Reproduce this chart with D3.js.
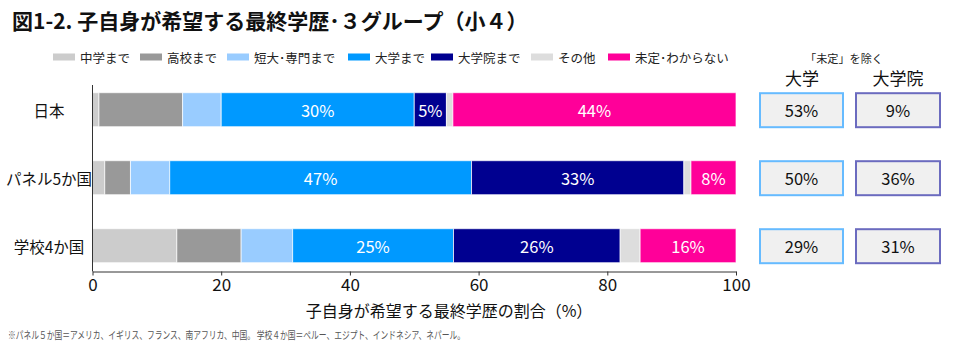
<!DOCTYPE html>
<html><head><meta charset="utf-8">
<script src="https://cdn.jsdelivr.net/npm/d3@7"></script>
<style>
body{margin:0;background:#fff;}
text{font-family:"Noto Sans CJK JP","Noto Sans",sans-serif;}
</style></head>
<body><svg id="c" width="955" height="356"></svg>
<script>
const categories = ["日本", "パネル5か国", "学校4か国"];
const seriesNames = ["中学まで", "高校まで", "短大･専門まで", "大学まで", "大学院まで", "その他", "未定･わからない"];
const seriesColors = ["#cccccc", "#999999", "#99ccff", "#0099ff", "#000090", "#dddddd", "#ff0099"];
const japanValues = [1.0, 13.0, 6.0, 30.0, 5.0, 1.0, 44.0];
const panelValues = [1.9, 4.0, 6.1, 46.9, 33.0, 1.1, 7.0];
const schoolValues = [13.1, 10.0, 8.0, 25.0, 25.9, 3.1, 14.9];
const japanLabels = [null, null, null, "30%", "5%", null, "44%"];
const panelLabels = [null, null, null, "47%", "33%", null, "8%"];
const schoolLabels = [null, null, null, "25%", "26%", null, "16%"];
const univExcl = ["53%", "50%", "29%"];
const gradExcl = ["9%", "36%", "31%"];
const xTicks = [0, 20, 40, 60, 80, 100];

const svg = d3.select("#c");
const x = d3.scaleLinear().domain([0, 100]).range([92.5, 736]);
const y = d3.scaleBand().domain(categories).range([75.7, 279.7]).paddingInner(0.5).paddingOuter(0.25);

// title
svg.append("text").attr("x", 12).attr("y", 29).attr("font-size", 21).attr("font-weight", "bold")
  .attr("fill", "#111").text("図1-2. 子自身が希望する最終学歴･３グループ（小４）");

// legend
const legendX = [53, 140, 227, 348, 431, 531, 608];
seriesNames.forEach((n, i) => {
  const g = svg.append("g").attr("transform", `translate(${legendX[i]},0)`);
  g.append("rect").attr("x", 0).attr("y", 53.5).attr("width", 22).attr("height", 7).attr("fill", seriesColors[i]);
  g.append("text").attr("x", 27).attr("y", 57).attr("dominant-baseline", "central")
    .attr("font-size", 12.5).attr("fill", "#222").text(n);
});

// stacked bars
const rows = [japanValues, panelValues, schoolValues];
const labels = [japanLabels, panelLabels, schoolLabels];
rows.forEach((vals, r) => {
  let acc = 0;
  vals.forEach((v, i) => {
    const x0 = acc, x1 = acc + v; acc = x1;
    svg.append("rect").attr("x", x(x0)).attr("y", y(categories[r]))
      .attr("width", x(x1) - x(x0)).attr("height", y.bandwidth())
      .attr("fill", seriesColors[i]).attr("stroke", "#fff").attr("stroke-width", 1).attr("stroke-opacity", 0.7);
    const lab = labels[r][i];
    if (lab) {
      svg.append("text").attr("x", (x(x0) + x(x1)) / 2).attr("y", y(categories[r]) + y.bandwidth() / 2)
        .attr("text-anchor", "middle").attr("dominant-baseline", "central")
        .attr("font-size", 16.5).attr("fill", "#fff").text(lab);
    }
  });
});

// category labels
categories.forEach(c => {
  svg.append("text").attr("x", 49).attr("y", y(c) + y.bandwidth() / 2)
    .attr("text-anchor", "middle").attr("dominant-baseline", "central")
    .attr("font-size", 15.5).attr("fill", "#111").text(c);
});

// y axis line
svg.append("line").attr("x1", x(0)).attr("x2", x(0)).attr("y1", 85).attr("y2", 271.5)
  .attr("stroke", "#333").attr("stroke-width", 1);

// x axis
const xAxis = d3.axisBottom(x).tickValues(xTicks).tickSize(4).tickSizeOuter(0).tickPadding(3);
const ga = svg.append("g").attr("transform", "translate(0,271.5)").call(xAxis);
ga.select(".domain").attr("stroke", "#333");
ga.selectAll(".tick line").attr("stroke", "#333");
ga.selectAll(".tick text").attr("font-size", 17).attr("fill", "#111")
  .attr("font-family", "'Noto Sans',sans-serif");

svg.append("text").attr("x", 449).attr("y", 310).attr("text-anchor", "middle").attr("dominant-baseline", "central")
  .attr("font-size", 16).attr("fill", "#111").text("子自身が希望する最終学歴の割合（%）");

// right boxes
svg.append("text").attr("x", 844).attr("y", 58).attr("text-anchor", "middle").attr("dominant-baseline", "central")
  .attr("font-size", 11.5).attr("fill", "#222").text("「未定」を除く")
  .attr("textLength", 78).attr("lengthAdjust", "spacingAndGlyphs");
svg.append("text").attr("x", 802).attr("y", 77).attr("text-anchor", "middle").attr("dominant-baseline", "central")
  .attr("font-size", 17).attr("fill", "#111").text("大学");
svg.append("text").attr("x", 898).attr("y", 77).attr("text-anchor", "middle").attr("dominant-baseline", "central")
  .attr("font-size", 17).attr("fill", "#111").text("大学院");
const boxCols = [{x0: 760, x1: 843, vals: univExcl, stroke: "#66bbff"}, {x0: 856, x1: 940, vals: gradExcl, stroke: "#6b6bbf"}];
boxCols.forEach(b => {
  categories.forEach((c, i) => {
    svg.append("rect").attr("x", b.x0).attr("y", y(c) + 0.5).attr("width", b.x1 - b.x0).attr("height", y.bandwidth())
      .attr("fill", "#f0f0f0").attr("stroke", b.stroke).attr("stroke-width", 2);
    svg.append("text").attr("x", (b.x0 + b.x1) / 2).attr("y", y(c) + y.bandwidth() / 2 + 0.5)
      .attr("text-anchor", "middle").attr("dominant-baseline", "central")
      .attr("font-size", 16.5).attr("fill", "#111").text(b.vals[i]);
  });
});

// footnote
svg.append("text").attr("x", 8).attr("y", 334).attr("dominant-baseline", "central")
  .attr("font-size", 10.5).attr("fill", "#555")
  .attr("textLength", 457).attr("lengthAdjust", "spacingAndGlyphs")
  .text("※パネル５か国＝アメリカ、イギリス、フランス、南アフリカ、中国。 学校４か国＝ペルー、エジプト、インドネシア、ネパール。");
</script></body></html>
